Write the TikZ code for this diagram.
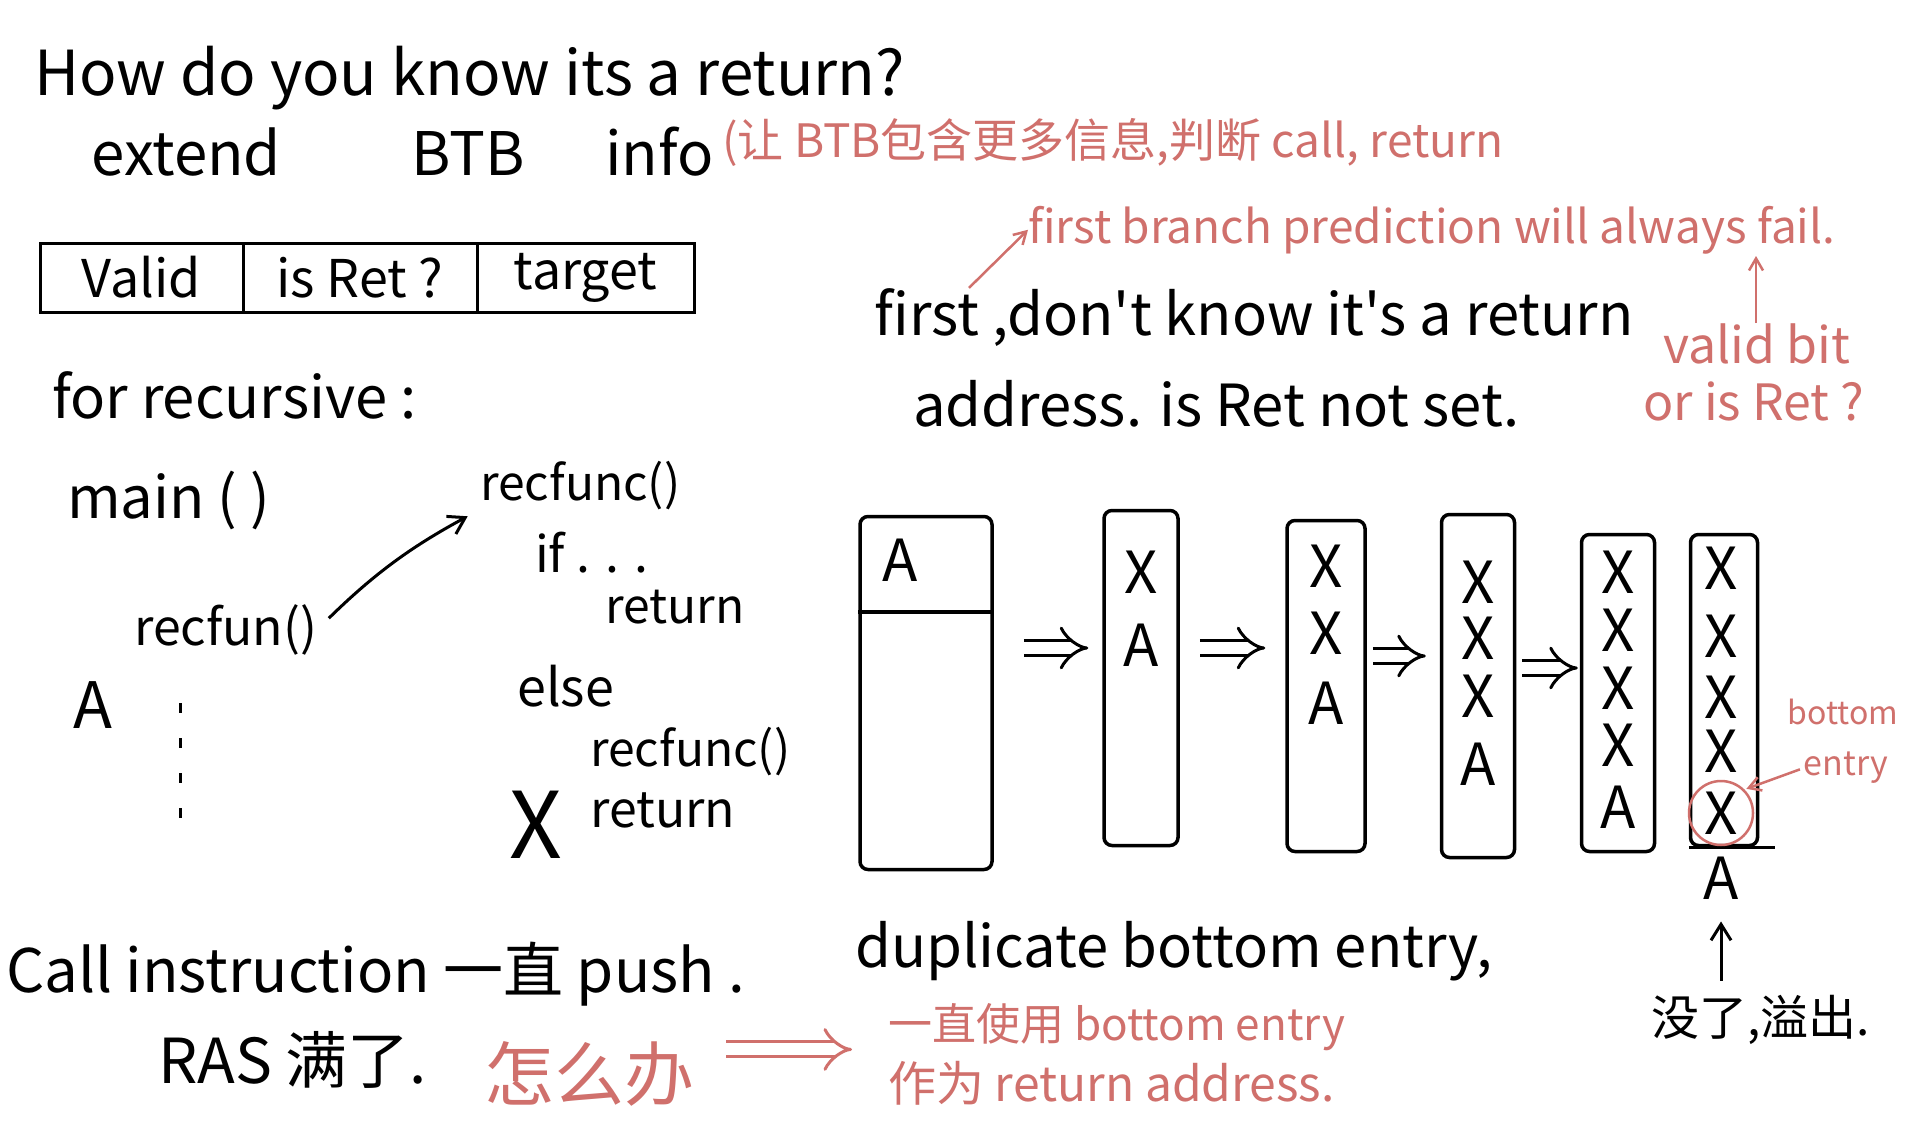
\documentclass[tikz,border=0pt]{standalone}
\usepackage{fontspec}
\setmainfont{Noto Sans CJK SC}[Ligatures=TeXOff]
\usetikzlibrary{positioning, calc, arrows.meta}
\definecolor{inkred}{RGB}{208,112,108}
\newcommand{\handsize}[1]{\fontsize{#1}{#1}\selectfont}

\begin{document}
\begin{tikzpicture}[
  x=1pt, y=-1pt,
  ink/.style={anchor=base west, inner sep=0pt, font=\handsize{58}},
  redink/.style={ink, text=inkred, font=\handsize{46}},
  cell/.style={draw, line width=3pt, outer sep=0pt, minimum height=69pt, inner sep=0pt, font=\handsize{52}},
  stackbox/.style={draw, line width=3.5pt, rounded corners=8pt, inner sep=0pt},
  slot/.style={inner sep=0pt, font=\handsize{58}},
  dblarrow/.style={double, line width=3pt, double distance=12pt, -{Implies[scale=1.5]}},
  callarrow/.style={line width=3pt, -{Straight Barb[length=16pt, width=20pt]}},
  redarrow/.style={inkred, line width=2.5pt, -{Straight Barb[length=12pt, width=14pt]}},
]
  \fill[white] (0,0) rectangle (1908,1142);
  \useasboundingbox (0,0) rectangle (1908,1142);

  % question and BTB entry
  \node[ink, font=\handsize{62}] (howq) at (34,96) {How do you know its a return?};
  \node[ink, font=\handsize{60}] (ext) at (91,176) {extend};
  \node[ink, font=\handsize{60}] (btb) at (411,176) {BTB};
  \node[ink, font=\handsize{60}] (info) at (605,176) {info};
  \node[redink] (btbnote) at (722,158) {(让 BTB包含更多信息,判断 call, return};

  \node[cell, minimum width=203pt, anchor=north west] (cvalid) at (40,243) {Valid};
  \node[cell, minimum width=234pt, right=0pt of cvalid] (cisret) {is Ret ?};
  \node[cell, minimum width=217pt, right=0pt of cisret] (ctarget) {target};

  % recursive example
  \node[ink] (forrec) at (52,418) {for recursive :};
  \node[ink] (mainf) at (67,518) {main ( )};
  \node[ink, font=\handsize{48}] (rfdef) at (480,500) {recfunc()};
  \node[ink, font=\handsize{50}] (ifl) at (535,572) {if . . .};
  \node[ink, font=\handsize{48}] (ret1) at (605,623) {return};
  \node[ink, font=\handsize{50}] (rfcall) at (134,645) {recfun()};
  \draw[callarrow, shorten <=16pt, shorten >=14pt] (rfcall.east) to[bend left=8] (rfdef.south west);
  \node[ink, font=\handsize{64}] (aret) at (73,728) {A};
  \draw[line width=3pt, dash pattern=on 10pt off 25pt] (180,703) -- (180,818);
  \node[ink, font=\handsize{52}] (elsel) at (517,706) {else};
  \node[ink, font=\handsize{48}] (rfrec) at (590,766) {recfunc()};
  \node[ink, font=\handsize{92}] (xret) at (509,858) {X};
  \node[ink, font=\handsize{50}] (ret2) at (590,827) {return};

  % first prediction
  \node[ink] (first) at (874,335) {first ,don't know it's a return};
  \node[ink] (addr) at (913,426) {address. is Ret not set.};
  \node[redink] (fbp) at (1028,243) {first branch prediction will always fail.};
  \draw[redarrow] ([xshift=95pt]first.north west) -- (fbp.west);
  \coordinate (failpt) at (1756,256);
  \node[redink, font=\handsize{50}] (vbit) at (1663,363) {valid bit};
  \node[redink, font=\handsize{50}] (orret) at (1643,420) {or is Ret ?};
  \draw[redarrow] (vbit.north -| failpt) -- (failpt);

  % RAS stacks
  \node[stackbox, minimum width=132pt, minimum height=353pt] (s1) at (926,693) {};
  \coordinate (div) at (0,612);
  \draw[line width=3.5pt] (s1.west |- div) -- (s1.east |- div);
  \node[slot] (s1-a) at (900,560) {A};
  \node[stackbox, minimum width=74pt, minimum height=335pt] (s2) at (1141,678) {};
  \foreach \y/\t in {572/X, 645/A} \node[slot] (s2-\y) at (1141,\y) {\t};
  \node[stackbox, minimum width=78pt, minimum height=331pt] (s3) at (1326,686) {};
  \foreach \y/\t in {566/X, 633/X, 703/A} \node[slot] (s3-\y) at (1326,\y) {\t};
  \node[stackbox, minimum width=73pt, minimum height=343pt] (s4) at (1478,686) {};
  \foreach \y/\t in {582/X, 638/X, 696/X, 764/A} \node[slot] (s4-\y) at (1478,\y) {\t};
  \node[stackbox, minimum width=73pt, minimum height=317pt] (s5) at (1618,693) {};
  \foreach \y/\t in {572/X, 630/X, 688/X, 745/X, 807/A} \node[slot] (s5-\y) at (1618,\y) {\t};
  \node[stackbox, minimum width=67pt, minimum height=311pt] (s6) at (1724,690) {};
  \foreach \y/\t in {568/X, 636/X, 697/X, 751/X, 813/X} \node[slot] (s6-\y) at (1721,\y) {\t};
  \draw[line width=3.5pt] (s6.south west) -- ++(86,0);
  \node[slot] (a6) at (1721,878) {A};

  \draw[dblarrow, shorten <=30pt, shorten >=14pt] ([yshift=45pt]s1.east) -- ([yshift=45pt]s1.east -| s2.west);
  \draw[dblarrow, shorten <=20pt, shorten >=20pt] ([yshift=30pt]s2.east) -- ([yshift=30pt]s2.east -| s3.west);
  \draw[dblarrow, shorten <=6pt, shorten >=14pt] ([yshift=30pt]s3.east) -- ([yshift=30pt]s3.east -| s4.west);
  \draw[dblarrow, shorten <=6pt, shorten >=2pt] ([yshift=18pt]s4.east) -- ([yshift=18pt]s4.east -| s5.west);

  \node[circle, draw=inkred, line width=2.5pt, minimum size=64pt, inner sep=0pt] (circ) at (1721,813) {};
  \node[redink, anchor=center, font=\handsize{32}] (bot) at (1843,712) {bottom};
  \node[redink, anchor=center, font=\handsize{34}] (ent) at (1846,768) {entry};
  \draw[redarrow, shorten <=4pt, shorten >=2pt] (ent.west) -- (circ.north east);

  \node[ink, font=\handsize{48}] (ovf) at (1651,1035) {没了,溢出.};
  \draw[callarrow, shorten <=14pt, shorten >=22pt] (ovf.north -| a6) -- (a6.south);

  % RAS full
  \node[ink, font=\handsize{60}] (callp) at (6,992) {Call instruction 一直 push .};
  \node[ink, font=\handsize{58}] (dup) at (855,967) {duplicate bottom entry,};
  \node[ink, font=\handsize{62}] (rasfull) at (158,1083) {RAS 满了.};
  \node[redink, font=\handsize{70}] (how) at (484,1100) {怎么办};
  \node[redink, font=\handsize{44}] (use) at (888,1040) {一直使用 bottom entry};
  \node[redink, font=\handsize{48}] (asret) at (888,1101) {作为 return address.};
  \draw[dblarrow, inkred, shorten <=32pt, shorten >=36pt] ([yshift=24pt]how.east) -- ([yshift=24pt]how.east -| use.west);
\end{tikzpicture}
\end{document}
